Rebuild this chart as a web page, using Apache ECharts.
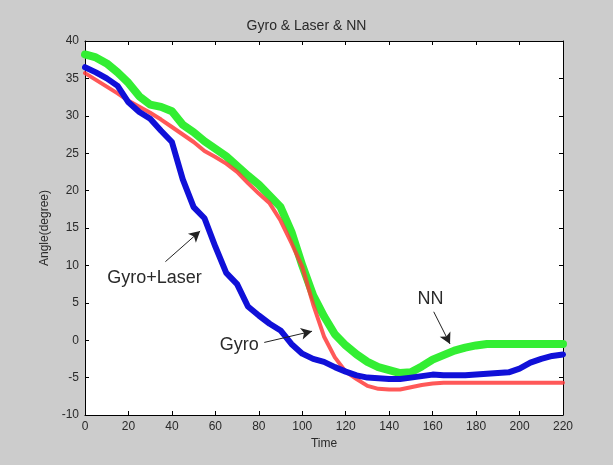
<!DOCTYPE html>
<html>
<head>
<meta charset="utf-8">
<script src="https://cdn.jsdelivr.net/npm/echarts@6/dist/echarts.min.js"></script>
<style>
  html, body { margin: 0; padding: 0; background: #cccccc; }
  #chart { width: 613px; height: 465px; }
</style>
</head>
<body>
<div id="chart"></div>
<script>
const times = [0, 5, 10, 15, 20, 25, 30, 35, 40, 45, 50, 55, 60, 65, 70, 75, 80, 85, 90, 95,
  100, 105, 110, 115, 120, 125, 130, 135, 140, 145, 150, 155, 160, 165, 170, 175, 180, 185,
  190, 195, 200, 205, 210, 215, 220]

// NN (green)
const nnValues = [38.2, 37.8, 37.0, 35.8, 34.4, 32.6, 31.5, 31.2, 30.6, 28.8, 27.8, 26.6, 25.6,
  24.6, 23.3, 22.0, 20.8, 19.3, 17.8, 14.5, 10.0, 6.0, 3.2, 0.8, -0.7, -1.9, -2.9, -3.6, -4.0,
  -4.4, -4.3, -3.5, -2.6, -2.0, -1.4, -1.0, -0.7, -0.5, -0.5, -0.5, -0.5, -0.5, -0.5, -0.5, -0.5]

// Gyro (red)
const gyroValues = [35.7, 34.8, 33.9, 33.0, 32.0, 31.2, 30.4, 29.5, 28.5, 27.5, 26.5, 25.3, 24.5,
  23.6, 22.5, 21.0, 19.6, 18.3, 16.0, 13.0, 9.8, 4.8, 0.5, -2.3, -4.2, -5.2, -6.1, -6.5, -6.6,
  -6.6, -6.3, -6.0, -5.8, -5.7, -5.7, -5.7, -5.7, -5.7, -5.7, -5.7, -5.7, -5.7, -5.7, -5.7, -5.7]

// Gyro+Laser (blue)
const gyroLaserValues = [36.5, 35.8, 35.0, 34.0, 31.8, 30.5, 29.6, 28.0, 26.5, 21.5, 17.8, 16.3,
  12.5, 9.0, 7.5, 4.5, 3.3, 2.2, 1.3, -0.5, -1.8, -2.5, -2.9, -3.6, -4.2, -4.7, -5.0, -5.1, -5.2,
  -5.2, -5.0, -4.8, -4.6, -4.7, -4.7, -4.7, -4.6, -4.5, -4.4, -4.3, -3.8, -3.0, -2.5, -2.1, -1.9]

const xTicks = { min: 0, max: 220, step: 20 }
const yTicks = { min: -10, max: 40, step: 5 }

// annotations: [label, labelPos, arrowStart, arrowEnd] in data units
const annotations = [
  ['Gyro+Laser', [32, 8.3], [37, 10.5], [53, 14.6]],
  ['Gyro', [71, -0.6], [82.5, -0.3], [104.5, 1.2]],
  ['NN', [159, 5.5], [160.5, 3.8], [168, -0.5]]
]

const toPairs = vals => times.map((t, i) => [t, vals[i]])

const textColor = '#2a2a2a'
const font = 'Liberation Sans, Arial, sans-serif'

const chart = echarts.init(document.getElementById('chart'))

const axisCommon = {
  axisLine: { show: true, onZero: false, lineStyle: { color: '#000', width: 1 } },
  axisTick: { show: true, inside: true, length: 4, lineStyle: { color: '#000' } },
  splitLine: { show: false }
}

const option = {
  backgroundColor: '#cccccc',
  animation: false,
  title: {
    text: 'Gyro & Laser & NN',
    left: 'center',
    top: 14,
    textStyle: { fontSize: 14, fontWeight: 'normal', color: textColor, fontFamily: font }
  },
  grid: { left: 85, right: 50, top: 41, bottom: 50, backgroundColor: '#fff', show: true, borderWidth: 0 },
  xAxis: [
    Object.assign({
      type: 'value', min: xTicks.min, max: xTicks.max, interval: xTicks.step,
      name: 'Time', nameLocation: 'middle', nameGap: 23,
      nameTextStyle: { fontSize: 12, color: textColor, fontFamily: font },
      axisLabel: { fontSize: 12, color: textColor, fontFamily: font, margin: 6 }
    }, axisCommon),
    Object.assign({
      type: 'value', position: 'top', min: xTicks.min, max: xTicks.max, interval: xTicks.step,
      axisLabel: { show: false }
    }, axisCommon)
  ],
  yAxis: [
    Object.assign({
      type: 'value', min: yTicks.min, max: yTicks.max, interval: yTicks.step,
      name: 'Angle(degree)', nameLocation: 'middle', nameGap: 30,
      nameTextStyle: { fontSize: 12, color: textColor, fontFamily: font },
      axisLabel: { fontSize: 12, color: textColor, fontFamily: font, margin: 6 }
    }, axisCommon),
    Object.assign({
      type: 'value', position: 'right', min: yTicks.min, max: yTicks.max, interval: yTicks.step,
      axisLabel: { show: false }
    }, axisCommon)
  ],
  series: [
    {
      name: 'NN', type: 'line', data: toPairs(nnValues), showSymbol: false, z: 2,
      lineStyle: { color: '#33ee33', width: 8, cap: 'round', join: 'round' }
    },
    {
      name: 'Gyro', type: 'line', data: toPairs(gyroValues), showSymbol: false, z: 3,
      lineStyle: { color: '#ff3b3b', width: 4, opacity: 0.85, cap: 'round', join: 'round' }
    },
    {
      name: 'Gyro+Laser', type: 'line', data: toPairs(gyroLaserValues), showSymbol: false, z: 4,
      lineStyle: { color: '#1010d8', width: 6, cap: 'round', join: 'round' }
    },
    {
      name: 'annotations', type: 'line', data: [], z: 5,
      markLine: {
        silent: true,
        symbol: ['none', 'arrow'],
        symbolSize: [9, 11],
        label: { show: false },
        lineStyle: { color: '#222', width: 1, type: 'solid' },
        data: annotations.map(a => [{ coord: a[2] }, { coord: a[3] }])
      },
      markPoint: {
        silent: true,
        symbol: 'circle',
        symbolSize: 1,
        itemStyle: { color: 'rgba(0,0,0,0)' },
        label: {
          show: true, position: 'inside', fontSize: 18, color: textColor, fontFamily: font,
          formatter: p => p.name
        },
        data: annotations.map(a => ({ name: a[0], coord: a[1] }))
      }
    }
  ]
}

chart.setOption(option)
</script>
</body>
</html>
